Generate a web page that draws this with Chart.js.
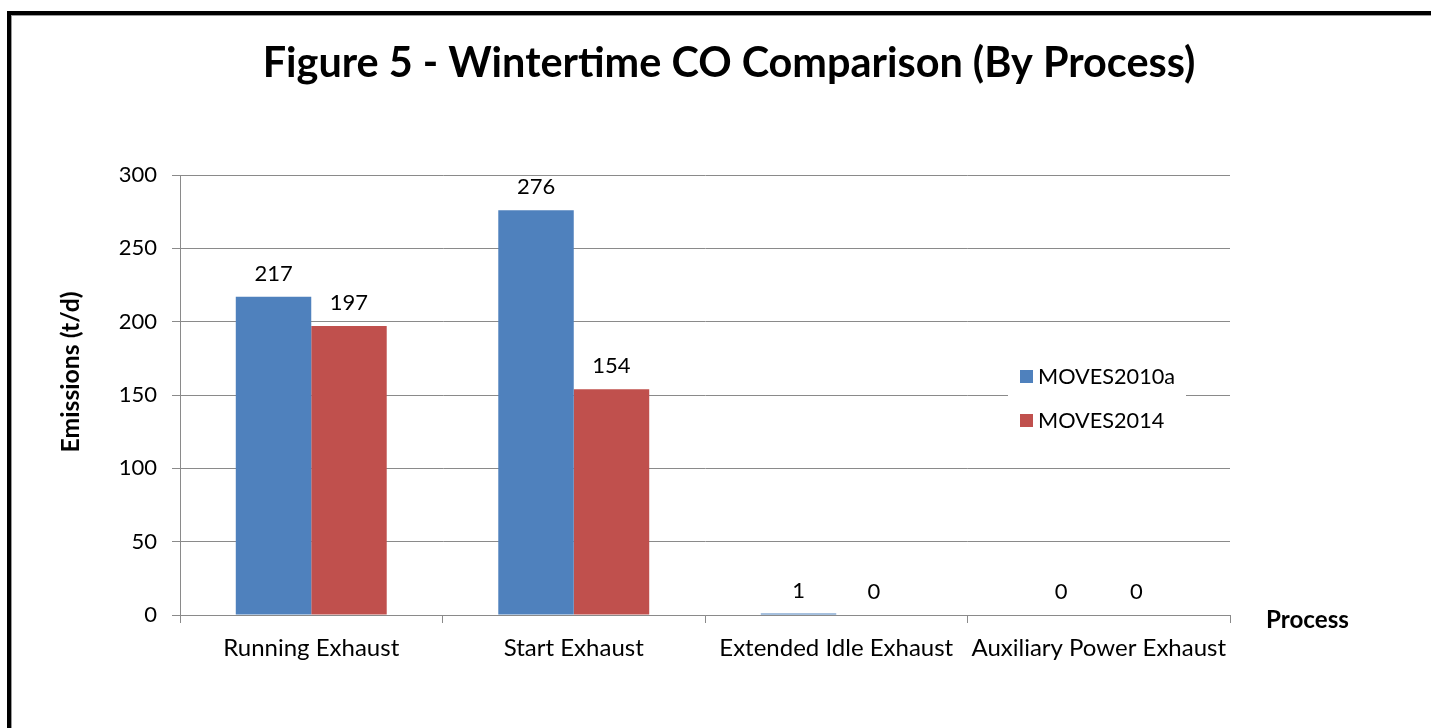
<!DOCTYPE html>
<html>
<head>
<meta charset="utf-8">
<script src="https://cdn.jsdelivr.net/npm/chart.js@4.4.0/dist/chart.umd.min.js"></script>
<style>
  html, body { margin: 0; padding: 0; background: #fff; overflow: hidden; }
  #wrap { position: relative; width: 1431px; height: 728px; }
  #frame {
    position: absolute; left: 7px; top: 11px; width: 1460px; height: 760px;
    border: 4px solid #000; box-shadow: inset 1px 1px 0 #9a9a9a;
  }
  canvas { position: absolute; left: 0; top: 0; }
</style>
</head>
<body>
<div id="wrap">
  <div id="frame"></div>
  <canvas id="chart" width="1431" height="728"></canvas>
</div>
<script>
// ── data ─────────────────────────────
const categories = ['Running Exhaust', 'Start Exhaust', 'Extended Idle Exhaust', 'Auxiliary Power Exhaust'];
const moves2010a = [217, 276, 1, 0];
const moves2014 = [197, 154, 0, 0];
const seriesNames = ['MOVES2010a', 'MOVES2014'];
const yTicks = [0, 50, 100, 150, 200, 250, 300];

const titleText = 'Figure 5 - Wintertime CO Comparison (By Process)';
const yTitle = 'Emissions (t/d)';
const xTitle = 'Process';

const FONT = 'Lato, "Open Sans", sans-serif';
const GRID = '#8a8a8a';

// pick a font size so the text spans the width seen in the reference
function fitFont(ctx, text, weight, width) {
    ctx.font = weight + ' 20px ' + FONT;
    const size = 20 * width / ctx.measureText(text).width;
    return weight + ' ' + size.toFixed(1) + 'px ' + FONT;
}

/* labels, titles and legend drawn on top of the chart */
const extras = {
    id: 'extras',
    afterDatasetsDraw(chart) {
        const ctx = chart.ctx;
        ctx.save();
        ctx.fillStyle = '#000';
        ctx.font = '22px ' + FONT;
        ctx.textAlign = 'center';
        ctx.textBaseline = 'alphabetic';
        chart.data.datasets.forEach((ds, di) => {
            chart.getDatasetMeta(di).data.forEach((bar, i) => {
                ctx.fillText(String(ds.data[i]), bar.x, bar.y - 16);
            });
        });
        ctx.restore();
    },
    afterDraw(chart) {
        const ctx = chart.ctx;
        ctx.save();

        // title
        ctx.fillStyle = '#000';
        ctx.font = fitFont(ctx, titleText, 'bold', 932);
        ctx.textAlign = 'center';
        ctx.textBaseline = 'alphabetic';
        ctx.fillText(titleText, 729, 77);

        // y axis title
        ctx.save();
        ctx.translate(79, 372);
        ctx.rotate(-Math.PI / 2);
        ctx.font = fitFont(ctx, yTitle, 'bold', 161);
        ctx.textAlign = 'center';
        ctx.fillText(yTitle, 0, 0);
        ctx.restore();

        // x axis title
        ctx.font = fitFont(ctx, xTitle, 'bold', 83);
        ctx.textAlign = 'left';
        ctx.fillText(xTitle, 1266, 628);

        // legend inside plot area
        ctx.fillStyle = '#fff';
        ctx.fillRect(1008, 356, 178, 84);
        ctx.font = fitFont(ctx, seriesNames[0], 'normal', 137);
        ctx.textBaseline = 'middle';
        chart.data.datasets.forEach((ds, di) => {
            const y = 376 + di * 44;
            ctx.fillStyle = ds.backgroundColor;
            ctx.fillRect(1020, y - 6, 13, 13);
            ctx.fillStyle = '#000';
            ctx.fillText(ds.label, 1038, y + 1);
        });
        ctx.restore();
    }
};

new Chart(document.getElementById('chart'), {
    type: 'bar',
    data: {
        labels: categories,
        datasets: [
            { label: seriesNames[0], data: moves2010a, backgroundColor: '#4f81bd' },
            { label: seriesNames[1], data: moves2014, backgroundColor: '#c0504d' }
        ]
    },
    options: {
        responsive: false,
        animation: false,
        layout: { padding: { left: 20, right: 201, top: 175, bottom: 20 } },
        datasets: { bar: { categoryPercentage: 0.575, barPercentage: 1 } },
        plugins: { legend: { display: false }, title: { display: false }, tooltip: { enabled: false } },
        scales: {
            x: {
                afterFit: s => { s.height = 93; },
                grid: { offset: true, drawOnChartArea: false, color: GRID, tickLength: 8 },
                border: { color: GRID },
                ticks: { color: '#000', font: { family: FONT, size: 24 }, padding: 11, maxRotation: 0, autoSkip: false }
            },
            y: {
                min: 0, max: 300,
                afterFit: s => { s.width = 160; },
                afterBuildTicks: s => { s.ticks = yTicks.map(v => ({ value: v })); },
                grid: { color: GRID, tickLength: 8 },
                border: { color: GRID },
                ticks: { color: '#000', font: { family: FONT, size: 22 }, padding: 15 }
            }
        }
    },
    plugins: [extras]
});
</script>
</body>
</html>
